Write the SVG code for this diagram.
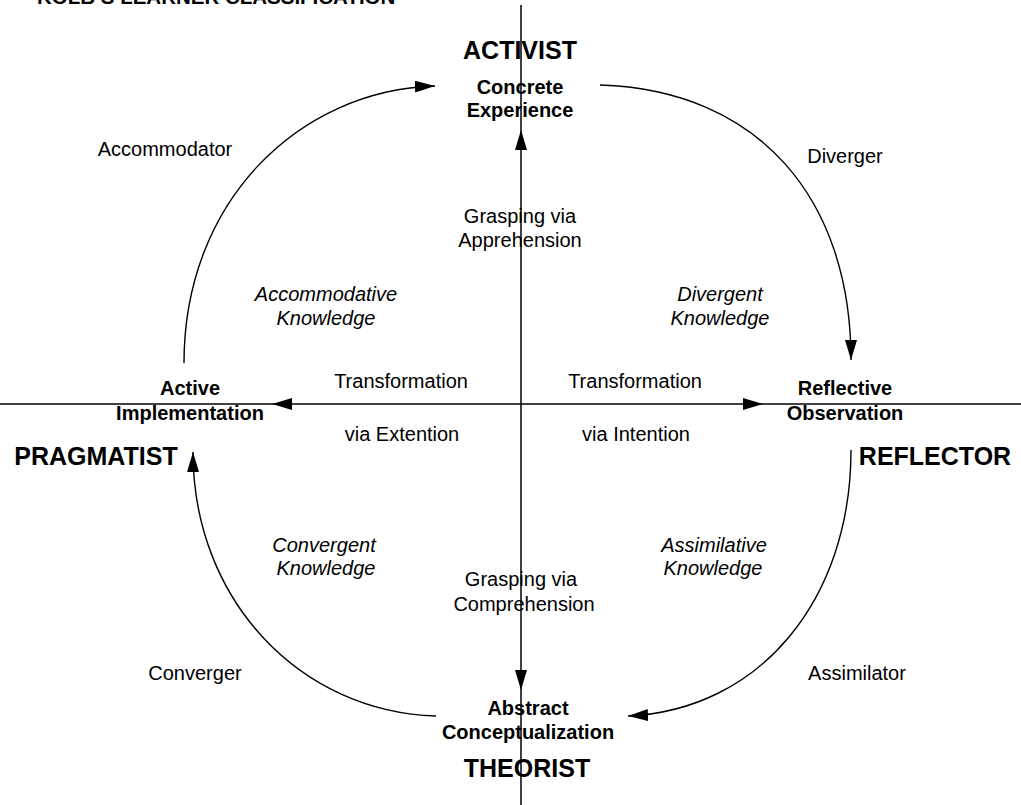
<svg xmlns="http://www.w3.org/2000/svg" width="1021" height="805" viewBox="0 0 1021 805">
<style>
text{font-family:"Liberation Sans",Arial,sans-serif;fill:#000;text-anchor:middle}
.h{font-size:25px;font-weight:bold}
.b{font-size:20px;font-weight:bold}
.r{font-size:20px}
.i{font-size:20px;font-style:italic}
.ax{stroke:#000;stroke-width:1.5;fill:none}
.arc{stroke:#000;stroke-width:1.4;fill:none;marker-end:url(#ah)}
.tip{fill:#000}
</style>
<defs>
<marker id="ah" markerUnits="userSpaceOnUse" markerWidth="20" markerHeight="12" refX="20" refY="6" orient="auto">
<path d="M0,0 L20,6 L0,12 z" fill="#000"/>
</marker>
</defs>
<rect width="1021" height="805" fill="#fff"/>
<text class="b" x="37" y="3.5" style="text-anchor:start;font-size:20.5px">KOLB’S LEARNER CLASSIFICATION</text>
<g id="connectors">
<line class="ax" x1="521" y1="5" x2="521" y2="805"/>
<line class="ax" x1="0" y1="404" x2="1021" y2="404"/>
<polygon class="tip" points="521,130 515,150 527,150"/>
<polygon class="tip" points="521,690 515,670 527,670"/>
<polygon class="tip" points="272,404 292,398 292,410"/>
<polygon class="tip" points="763,404 743,398 743,410"/>
<path class="arc" d="M184,363 C184,200 300,90 435,86"/>
<path class="arc" d="M600,85 C760,90 851,200 851,360"/>
<path class="arc" d="M851,450 C851,600 760,710 628,716"/>
<path class="arc" d="M436,716 C300,712 193,600 193,452"/>
</g>
<g id="activist">
<text class="h" x="520" y="59">ACTIVIST</text>
<text class="b" x="520" y="94">Concrete</text>
<text class="b" x="520" y="117">Experience</text>
</g>
<g id="pragmatist">
<text class="h" x="96" y="465">PRAGMATIST</text>
<text class="b" x="190" y="395">Active</text>
<text class="b" x="190" y="420">Implementation</text>
</g>
<g id="reflector">
<text class="h" x="935" y="465">REFLECTOR</text>
<text class="b" x="845" y="395">Reflective</text>
<text class="b" x="845" y="420">Observation</text>
</g>
<g id="theorist">
<text class="b" x="528" y="715">Abstract</text>
<text class="b" x="528" y="739">Conceptualization</text>
<text class="h" x="527" y="777">THEORIST</text>
</g>
<g id="labels">
<text class="r" x="165" y="156">Accommodator</text>
<text class="r" x="845" y="163">Diverger</text>
<text class="r" x="195" y="680">Converger</text>
<text class="r" x="857" y="680">Assimilator</text>
<text class="i" x="326" y="301">Accommodative</text>
<text class="i" x="326" y="325">Knowledge</text>
<text class="i" x="720" y="301">Divergent</text>
<text class="i" x="720" y="325">Knowledge</text>
<text class="i" x="324" y="552">Convergent</text>
<text class="i" x="326" y="575">Knowledge</text>
<text class="i" x="714" y="552">Assimilative</text>
<text class="i" x="713" y="575">Knowledge</text>
<text class="r" x="520" y="223">Grasping via</text>
<text class="r" x="520" y="247">Apprehension</text>
<text class="r" x="521" y="586">Grasping via</text>
<text class="r" x="524" y="611">Comprehension</text>
<text class="r" x="401" y="388">Transformation</text>
<text class="r" x="402" y="441">via Extention</text>
<text class="r" x="635" y="388">Transformation</text>
<text class="r" x="636" y="441">via Intention</text>
</g>
</svg>
